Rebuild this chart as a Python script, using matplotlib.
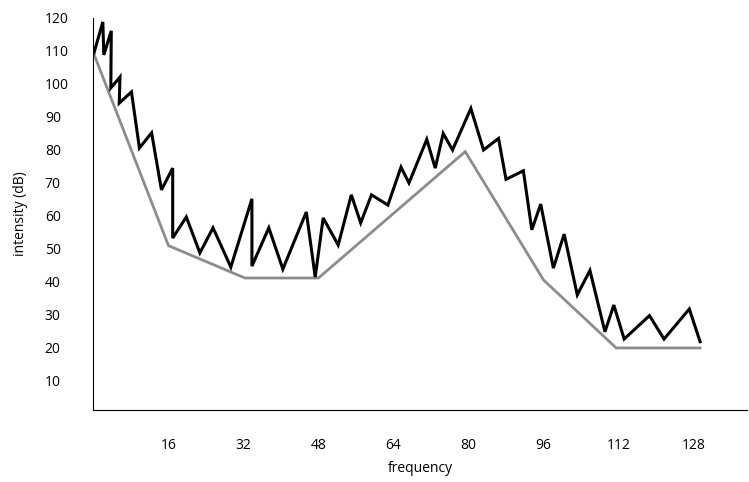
import matplotlib.pyplot as plt

plt.rcParams['font.family'] = ['Open Sans', 'DejaVu Sans']

env_freq = [0, 16, 32.3, 48, 79.3, 96, 111.5, 129.4]
env_db = [109.4, 51, 41.2, 41.2, 79.5, 40.6, 20, 20]

spec_freq = [0.1, 2.0, 2.2, 3.8, 3.7, 5.65, 5.5, 8.1, 9.8, 12.4, 14.5, 16.9, 16.9,
             19.8, 22.7, 25.5, 29.3, 33.8, 33.8, 37.4, 40.4, 45.4, 47.3, 49.0,
             52.2, 55.0, 57.0, 59.3, 62.8, 65.6, 67.3, 71.1, 72.9, 74.6, 76.6,
             80.5, 83.2, 86.4, 88.0, 91.7, 93.5, 95.4, 98.1, 100.4, 103.2, 105.9,
             109.1, 111.0, 113.2, 118.6, 121.7, 127.1, 129.4]
spec_db = [109.4, 118.8, 108.8, 116.1, 98.8, 102.1, 94.2, 97.6, 80.6, 85.2, 67.9,
           74.5, 53.3, 59.7, 48.8, 56.4, 44.5, 65.2, 44.8, 56.4, 43.9, 61.2, 41.5,
           59.4, 51.2, 66.4, 57.9, 66.4, 63.3, 74.8, 70.0, 83.2, 74.5, 85.0, 80.0,
           92.6, 80.0, 83.5, 71.1, 73.7, 55.8, 63.6, 44.2, 54.5, 36.1, 43.5, 24.9,
           33.0, 22.7, 29.8, 22.7, 31.8, 21.9]

x_ticks = [16, 32, 48, 64, 80, 96, 112, 128]
y_ticks = [10, 20, 30, 40, 50, 60, 70, 80, 90, 100, 110, 120]

fig = plt.figure(figsize=(7.49, 4.82), dpi=100)
ax = fig.add_axes([0.1248, 0.1494, 0.8725, 0.8133])

ax.plot(env_freq, env_db, color='#8c8c8c', lw=2.0, solid_joinstyle='miter')
ax.plot(spec_freq, spec_db, color='black', lw=2.2, solid_joinstyle='miter')

ax.set_xlim(0, 139.4)
ax.set_ylim(1.2, 120)
ax.set_xticks(x_ticks)
ax.set_yticks(y_ticks)
ax.tick_params(axis='both', length=0, labelsize=10)
ax.tick_params(axis='x', pad=20)
ax.tick_params(axis='y', pad=35)
for lab in ax.get_yticklabels():
    lab.set_horizontalalignment('left')

for side in ['top', 'right']:
    ax.spines[side].set_visible(False)
for side in ['left', 'bottom']:
    ax.spines[side].set_linewidth(0.8)
    ax.spines[side].set_color('black')

ax.set_xlabel('frequency', fontsize=10, labelpad=6)
ax.set_ylabel('intensity (dB)', fontsize=10, labelpad=12)

fig.savefig('out.png', dpi=100)
